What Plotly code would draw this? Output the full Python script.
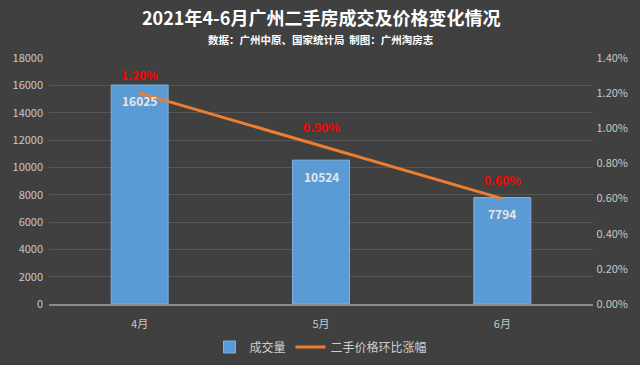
import plotly.graph_objects as go

months = ["4月", "5月", "6月"]
volume = [16025, 10524, 7794]
price_change = [0.012, 0.009, 0.006]
title_text = "2021年4-6月广州二手房成交及价格变化情况"
subtitle_text = "数据：广州中原、国家统计局  制图：广州淘房志"

FONT = "Noto Sans CJK SC"
PLOT_TOP, PLOT_BOTTOM = 58, 304


def paper_y(px):
    return (PLOT_BOTTOM - px) / (PLOT_BOTTOM - PLOT_TOP)


fig = go.Figure()
fig.add_trace(go.Bar(
    x=months, y=volume, name="成交量", yaxis="y",
    marker=dict(color="#5b9bd5", line=dict(color="#7fb2e0", width=1)),
    width=0.314,
))
fig.add_trace(go.Scatter(
    x=months, y=price_change, name="二手价格环比涨幅", yaxis="y2",
    mode="lines", line=dict(color="#ed7d31", width=3),
))
for m, v in zip(months, volume):
    fig.add_annotation(x=m, y=v, xref="x", yref="y", text="<b>%d</b>" % v,
                       showarrow=False, yshift=-16, font=dict(color="#e6e6e6", size=12, family=FONT))
for m, p in zip(months, price_change):
    fig.add_annotation(x=m, y=p, xref="x", yref="y2", text="<b>%.2f%%</b>" % (p * 100),
                       showarrow=False, yshift=19, font=dict(color="#ff0000", size=12, family=FONT))

fig.add_annotation(x=0.5, y=paper_y(17), xref="paper", yref="paper", text="<b>" + title_text + "</b>",
                   showarrow=False, yanchor="middle", font=dict(size=18, color="#ffffff", family=FONT))
fig.add_annotation(x=0.5, y=paper_y(39), xref="paper", yref="paper", text="<b>" + subtitle_text + "</b>",
                   showarrow=False, yanchor="middle", font=dict(size=10.5, color="#ffffff", family=FONT))

fig.update_layout(
    width=640, height=365,
    margin=dict(l=49, r=47, t=PLOT_TOP, b=365 - PLOT_BOTTOM),
    paper_bgcolor="#404040", plot_bgcolor="rgba(0,0,0,0)",
    font=dict(family=FONT, color="#c8c8c8", size=11),
    xaxis=dict(showgrid=False, tickfont=dict(size=11, color="#c8c8c8"), automargin=False,
               ticks="outside", ticklen=9, tickcolor="rgba(0,0,0,0)",
               showline=True, linecolor="#8a8a8a", linewidth=1.5),
    yaxis=dict(range=[0, 18000], dtick=2000, tickformat="d", gridcolor="#575757", zeroline=False,
               automargin=False, tickfont=dict(size=11, color="#c8c8c8"), ticksuffix="  "),
    yaxis2=dict(range=[0, 0.014], dtick=0.002, tickformat=".2%", overlaying="y", side="right",
                automargin=False, showgrid=False, zeroline=False,
                tickfont=dict(size=11, color="#c8c8c8"), tickprefix=" "),
    legend=dict(orientation="h", x=0.5, xanchor="center", y=18 / 365, yanchor="middle",
                yref="container", font=dict(size=12, color="#cfcfcf"), bgcolor="rgba(0,0,0,0)",
                itemwidth=30),
    showlegend=True,
)
fig.write_html("out.html", config={"displayModeBar": False},
               post_script="document.body.style.margin='0';document.body.style.background='#404040';")
